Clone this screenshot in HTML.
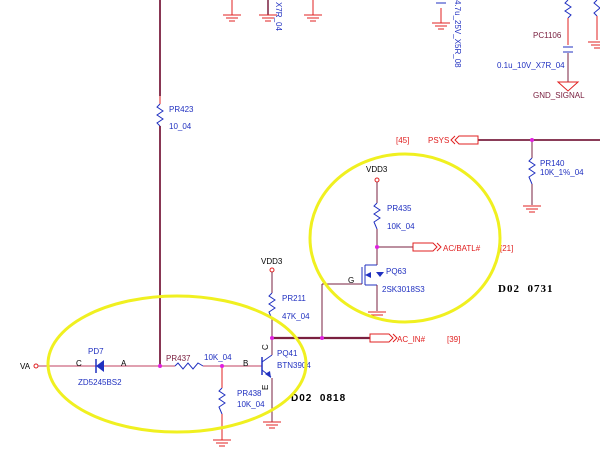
<!DOCTYPE html><html><head><style>body{margin:0;background:#fff}svg{display:block}text{font-family:"Liberation Sans",sans-serif;font-size:8px}</style></head><body>
<svg width="600" height="460" viewBox="0 0 600 460" xmlns="http://www.w3.org/2000/svg">
<defs>
<g id="gnd"><line x1="-9" y1="0" x2="9" y2="0" stroke="#e02020" stroke-width="1"/><line x1="-6" y1="3" x2="6" y2="3" stroke="#e02020"/><line x1="-3" y1="6" x2="3" y2="6" stroke="#e02020"/></g>
</defs>
<g fill="none" stroke-width="1">
<line x1="160" y1="0" x2="160" y2="96" stroke="#7a2040" stroke-width="1.8"/>
<line x1="160" y1="96" x2="160" y2="104" stroke="#e02020"/>
<polyline points="160,104 157,107 163,111 157,115 163,119 157,123 160,126" stroke="#2030c0"/>
<line x1="160" y1="126" x2="160" y2="366" stroke="#7a2040" stroke-width="1.8"/>
<line x1="232" y1="0" x2="232" y2="15" stroke="#e02020"/>
<line x1="268" y1="0" x2="268" y2="15" stroke="#7a2040" stroke-width="1.5"/>
<line x1="313" y1="0" x2="313" y2="15" stroke="#e02020"/>
<line x1="441" y1="8" x2="441" y2="23" stroke="#e02020"/>
<line x1="436" y1="3" x2="446" y2="3" stroke="#2030c0"/>
<polyline points="568,0 565,3 571,7 565,11 571,15 568,18" stroke="#2030c0"/>
<line x1="568" y1="18" x2="568" y2="45" stroke="#e02020"/>
<line x1="563" y1="47" x2="573" y2="47" stroke="#2030c0"/>
<line x1="563" y1="52" x2="573" y2="52" stroke="#2030c0"/>
<line x1="568" y1="53" x2="568" y2="82" stroke="#7a2040"/>
<polygon points="558,82 578,82 568,91" stroke="#e02020"/>
<polyline points="597,0 594,3 600,8 594,13 597,16" stroke="#2030c0"/>
<line x1="597" y1="16" x2="597" y2="40" stroke="#e02020"/>
</g>
<use href="#gnd" x="232" y="15"/><use href="#gnd" x="268" y="15"/><use href="#gnd" x="313" y="15"/><use href="#gnd" x="441" y="23"/><use href="#gnd" x="597" y="42"/>
<text x="276" y="2" transform="rotate(90 276 2)" fill="#2030c0">X7R_04</text>
<text x="455" y="0" transform="rotate(90 455 0)" fill="#2030c0" font-size="7">4.7u_25V_X5R_08</text>
<text x="533" y="38" fill="#7a2040" font-size="7">PC1106</text>
<text x="497" y="68" fill="#2030c0" font-size="7">0.1u_10V_X7R_04</text>
<text x="533" y="98" fill="#7a2040" font-size="7">GND_SIGNAL</text>
<text x="169" y="112" fill="#2030c0" font-size="7">PR423</text>
<text x="169" y="129" fill="#2030c0" font-size="7">10_04</text>
<g fill="none">
<line x1="478" y1="140" x2="600" y2="140" stroke="#7a2040" stroke-width="1.8"/>
<polygon points="478,136 459,136 455,140 459,144 478,144" stroke="#e02020"/>
<polyline points="455,136 451,140 455,144" stroke="#e02020"/>
<line x1="532" y1="140" x2="532" y2="158" stroke="#7a2040"/>
<polyline points="532,158 529,161 535,165 529,169 535,173 529,177 532,184" stroke="#2030c0"/>
<line x1="532" y1="184" x2="532" y2="205" stroke="#7a2040"/>
</g>
<use href="#gnd" x="532" y="206"/>
<circle cx="532" cy="140" r="2" fill="#e020e0"/>
<text x="396" y="143" fill="#e02020" font-size="7">[45]</text>
<text x="428" y="143" fill="#e02020" font-size="7">PSYS</text>
<text x="540" y="166" fill="#2030c0" font-size="7">PR140</text>
<text x="540" y="175" fill="#2030c0" font-size="7">10K_1%_04</text>
<g fill="none">
<circle cx="377" cy="180" r="2" stroke="#e02020"/>
<line x1="377" y1="182" x2="377" y2="203" stroke="#7a2040"/>
<polyline points="377,203 374,206 380,210 374,214 380,218 374,222 377,229" stroke="#2030c0"/>
<line x1="377" y1="229" x2="377" y2="265" stroke="#7a2040"/>
<line x1="377" y1="247" x2="413" y2="247" stroke="#7a2040"/>
<polygon points="413,243 433,243 437,247 433,251 413,251" stroke="#e02020"/>
<polyline points="437,243 441,247 437,251" stroke="#e02020"/>
<line x1="377" y1="265" x2="365" y2="265" stroke="#2030c0"/>
<line x1="365" y1="265" x2="365" y2="285" stroke="#2030c0"/>
<line x1="362" y1="267" x2="362" y2="284" stroke="#2030c0"/>
<line x1="365" y1="285" x2="377" y2="285" stroke="#2030c0"/>
<line x1="377" y1="285" x2="377" y2="311" stroke="#7a2040"/>
<line x1="322" y1="284" x2="362" y2="284" stroke="#7a2040"/>
<line x1="322" y1="284" x2="322" y2="338" stroke="#7a2040"/>
</g>
<polygon points="365,275 371,272 371,278" fill="#2030c0"/>
<polygon points="380,277 384,272 376,272" fill="#2030c0"/>
<use href="#gnd" x="377" y="312"/>
<circle cx="377" cy="247" r="2" fill="#e020e0"/>
<text x="366" y="172" fill="#000" font-size="7">VDD3</text>
<text x="387" y="211" fill="#2030c0" font-size="7">PR435</text>
<text x="387" y="229" fill="#2030c0" font-size="7">10K_04</text>
<text x="443" y="251" fill="#e02020" font-size="7">AC/BATL#</text>
<text x="500" y="251" fill="#e02020" font-size="7">[21]</text>
<text x="348" y="283" fill="#000" font-size="7">G</text>
<text x="386" y="274" fill="#2030c0" font-size="7">PQ63</text>
<text x="382" y="292" fill="#2030c0" font-size="7">2SK3018S3</text>
<text x="498" y="292" fill="#000" style="font-family:'Liberation Serif',serif;font-weight:bold;font-size:11px;letter-spacing:1px">D02&#160;&#160;0731</text>
<g fill="none">
<circle cx="36" cy="366" r="2" stroke="#e02020"/>
<line x1="38" y1="366" x2="175" y2="366" stroke="#c04060"/>
<polyline points="175,366 178,363 183,369 188,363 193,369 198,363 203,366" stroke="#2030c0"/>
<line x1="203" y1="366" x2="262" y2="366" stroke="#c04060"/>
<line x1="96" y1="359" x2="96" y2="373" stroke="#2030c0" stroke-width="1.5"/>
<line x1="262" y1="357" x2="262" y2="375" stroke="#2030c0" stroke-width="1.5"/>
<line x1="262" y1="362" x2="272" y2="355" stroke="#2030c0"/>
<line x1="262" y1="370" x2="271" y2="377" stroke="#2030c0"/>
<line x1="272" y1="355" x2="272" y2="338" stroke="#7a2040"/>
<line x1="272" y1="378" x2="272" y2="422" stroke="#7a2040"/>
<circle cx="272" cy="270" r="2" stroke="#e02020"/>
<line x1="272" y1="272" x2="272" y2="293" stroke="#7a2040"/>
<polyline points="272,293 269,296 275,300 269,304 275,308 269,312 272,319" stroke="#2030c0"/>
<line x1="272" y1="319" x2="272" y2="338" stroke="#7a2040"/>
<line x1="272" y1="338" x2="370" y2="338" stroke="#7a2040" stroke-width="2.2"/>
<polygon points="370,334 389,334 393,338 389,342 370,342" stroke="#e02020"/>
<polyline points="393,334 397,338 393,342" stroke="#e02020"/>
<line x1="222" y1="366" x2="222" y2="388" stroke="#e02020"/>
<polyline points="222,388 219,391 225,395 219,399 225,403 219,407 222,414" stroke="#2030c0"/>
<line x1="222" y1="414" x2="222" y2="440" stroke="#e02020"/>
</g>
<polygon points="96,366 104,360 104,372" fill="#2030c0"/>
<polygon points="271,378 265,374 270,371" fill="#2030c0"/>
<use href="#gnd" x="272" y="422"/><use href="#gnd" x="222" y="440"/>
<circle cx="160" cy="366" r="2" fill="#e020e0"/>
<circle cx="222" cy="366" r="2" fill="#e020e0"/>
<circle cx="272" cy="338" r="2" fill="#e020e0"/>
<circle cx="322" cy="338" r="2" fill="#e020e0"/>
<text x="20" y="369" fill="#000" font-size="7">VA</text>
<text x="76" y="366" fill="#000" font-size="7">C</text>
<text x="121" y="366" fill="#000" font-size="7">A</text>
<text x="88" y="354" fill="#2030c0" font-size="7">PD7</text>
<text x="78" y="385" fill="#2030c0" font-size="7">ZD5245BS2</text>
<text x="166" y="361" fill="#7a2040" font-size="7">PR437</text>
<text x="204" y="360" fill="#2030c0" font-size="7">10K_04</text>
<text x="243" y="366" fill="#000" font-size="7">B</text>
<text x="261" y="264" fill="#000" font-size="7">VDD3</text>
<text x="282" y="301" fill="#2030c0" font-size="7">PR211</text>
<text x="282" y="319" fill="#2030c0" font-size="7">47K_04</text>
<text x="277" y="356" fill="#2030c0" font-size="7">PQ41</text>
<text x="277" y="368" fill="#2030c0" font-size="7">BTN3904</text>
<text x="237" y="396" fill="#2030c0" font-size="7">PR438</text>
<text x="237" y="407" fill="#2030c0" font-size="7">10K_04</text>
<text x="397" y="342" fill="#e02020" font-size="7">AC_IN#</text>
<text x="447" y="342" fill="#e02020" font-size="7">[39]</text>
<text x="291" y="401" fill="#000" style="font-family:'Liberation Sans',sans-serif;font-weight:bold;font-size:10px;letter-spacing:1px">D02&#160;&#160;0818</text>
<text x="268" y="350" transform="rotate(-90 268 350)" fill="#000" font-size="6">C</text>
<text x="268" y="390" transform="rotate(-90 268 390)" fill="#000" font-size="6">E</text>
<ellipse cx="177" cy="364" rx="129" ry="68" fill="none" stroke="#f0f020" stroke-width="3"/>
<ellipse cx="405" cy="238" rx="95" ry="84" fill="none" stroke="#f0f020" stroke-width="3"/>
</svg></body></html>
